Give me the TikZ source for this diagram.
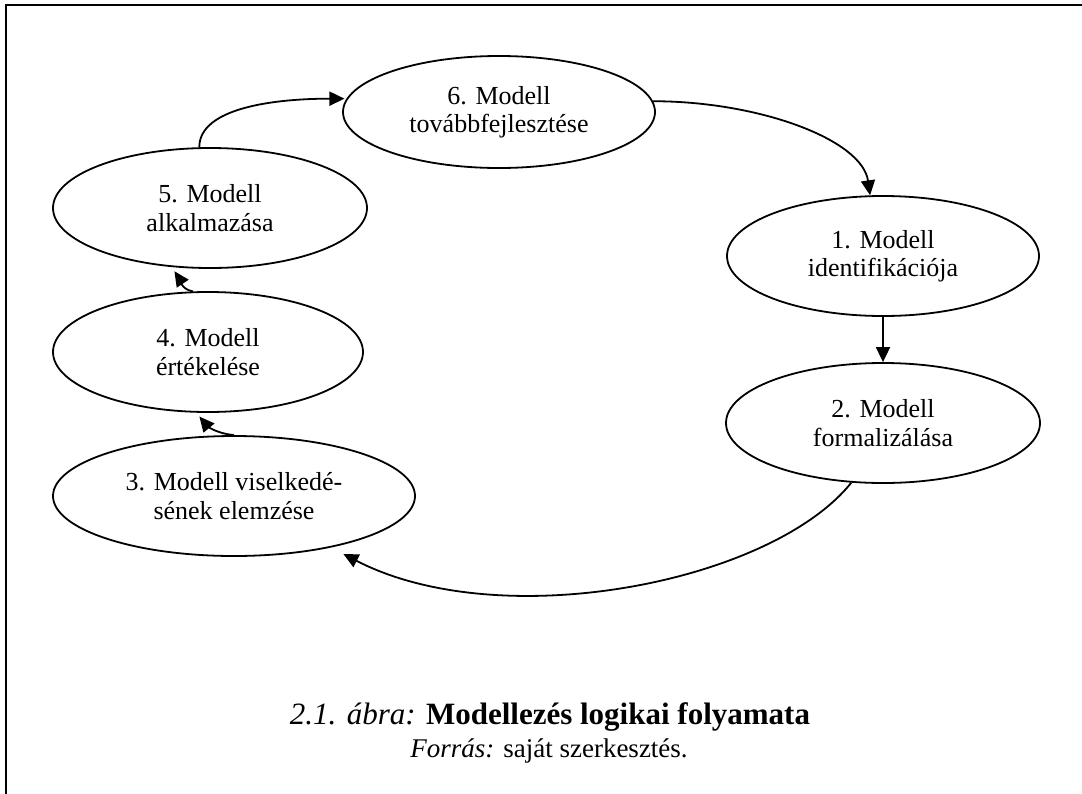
\documentclass[tikz,border=0pt]{standalone}
\usepackage{fontspec}
\setmainfont{Liberation Serif}
\usetikzlibrary{shapes.geometric,arrows.meta}

\begin{document}
\begin{tikzpicture}[x=1pt,y=-1pt,
  stage/.style={draw, line width=1.8pt, ellipse, inner sep=0pt, align=center,
    font=\fontsize{26}{28.5}\selectfont},
  flow/.style={line width=1.8pt, -{Triangle[length=15pt,width=14pt]}}]
  \useasboundingbox (0,0) rectangle (1082,793);
  % outer frame (runs past the right and bottom page edges)
  \draw[line width=2pt] (6,5) rectangle (1100,805);

  % process stages
  \node[stage, minimum width=312pt, minimum height=112pt] (n6) at (499,112) {6. Modell\\továbbfejlesztése};
  \node[stage, minimum width=314pt, minimum height=120pt] (n5) at (210,208) {5. Modell\\alkalmazása};
  \node[stage, minimum width=310pt, minimum height=120pt] (n4) at (208,352) {4. Modell\\értékelése};
  \node[stage, minimum width=362pt, minimum height=120pt] (n3) at (234,496) {3. Modell viselkedé-\\sének elemzése};
  \node[stage, minimum width=312pt, minimum height=120pt] (n1) at (883,256) {1. Modell\\identifikációja};
  \node[stage, minimum width=314pt, minimum height=120pt] (n2) at (883,423) {2. Modell\\formalizálása};

  % connectors
  \draw[flow] (n6.4) .. controls +(105,0) and +(-8,-56) .. (n1.102);
  \draw[flow] (n1.south) -- (n2.north);
  \draw[flow, shorten >=14pt] (n2.242) .. controls +(-80,100) and +(170,88) .. (n3.332);
  \draw[flow, shorten >=5pt] (n3.north) .. controls +(-20,-2) and +(10,12) .. (n4.259);
  \draw[flow, shorten >=5pt] (n4.104) .. controls +(-12,-2) and +(8,12) .. (n5.237);
  \draw[flow, shorten >=2pt] (n5.100) .. controls +(0,-40) and +(-70,0) .. (n6.175);

  % caption
  \node[anchor=base, font=\fontsize{31}{34}\selectfont] (cap) at (550,724)
    {\textit{2.1. ábra:} \textbf{Modellezés logikai folyamata}};
  \node[anchor=base, font=\fontsize{27}{30}\selectfont] (src) at (549,757)
    {\textit{Forrás:} saját szerkesztés.};
\end{tikzpicture}
\end{document}
